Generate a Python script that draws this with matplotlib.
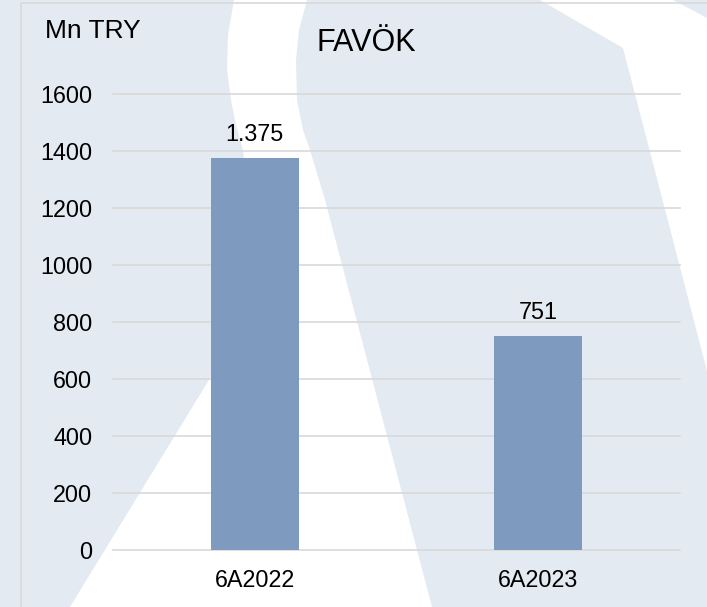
import matplotlib.pyplot as plt
from matplotlib.patches import Polygon, Rectangle

plt.rcParams["font.family"] = ["Liberation Sans", "DejaVu Sans"]

categories = ["6A2022", "6A2023"]
values = [1375, 751]
value_labels = ["1.375", "751"]
y_ticks = [0, 200, 400, 600, 800, 1000, 1200, 1400, 1600]

W, H = 707, 607
fig = plt.figure(figsize=(W / 100, H / 100), dpi=100)
fig.patch.set_facecolor("white")

# background decoration in pixel coordinates
bg = fig.add_axes([0, 0, 1, 1], zorder=0)
bg.set_xlim(0, W)
bg.set_ylim(H, 0)
bg.axis("off")
bg.add_patch(Rectangle((0, 0), W, H, facecolor="#E4EAF2", edgecolor="none"))
left_white = [(234, 0), (307, 0), (299, 30), (296, 60), (297, 100), (303, 130),
              (310, 150), (325, 200), (432, 607), (70, 607), (212, 375),
              (252, 220), (243, 150), (236, 125), (231, 100), (227, 70),
              (228, 35)]
bg.add_patch(Polygon(left_white, closed=True, facecolor="white", edgecolor="none"))
right_white = [(540, 0), (673, 0), (707, 18), (707, 371), (623, 48)]
bg.add_patch(Polygon(right_white, closed=True, facecolor="white", edgecolor="none"))
bg.add_patch(Rectangle((21, 3), 720, 640, facecolor="none", edgecolor="#D9D9D9", lw=1.2))

ax = fig.add_axes([113 / W, 1 - 549.7 / H, (680 - 113) / W, (549.7 - 93.7) / H], zorder=1)
ax.patch.set_alpha(0)
x = range(len(categories))
ax.bar(x, values, width=0.31, color="#7E9BBF", zorder=3)
ax.set_xlim(-0.5, 1.5)
ax.set_ylim(0, 1600)
for t in y_ticks:
    ax.axhline(t, color="#D9D9D9", lw=1.2, zorder=1, clip_on=False)
for xi, v, lab in zip(x, values, value_labels):
    ax.annotate(lab, (xi, v), xytext=(0, 17), textcoords="offset points",
                ha="center", va="center", fontsize=16.8, color="black")

ax.set_yticks(y_ticks)
ax.set_xticks(list(x))
ax.set_xticklabels(categories)
ax.tick_params(axis="y", length=0, pad=15, labelsize=16.8, labelcolor="black")
ax.tick_params(axis="x", length=0, pad=14, labelsize=16.8, labelcolor="black")
for s in ax.spines.values():
    s.set_visible(False)

fig.text(45 / W, 1 - 31 / H, "Mn TRY", fontsize=19, ha="left", va="center", color="black")
fig.text(366 / W, 1 - 43 / H, "FAVÖK", fontsize=22, ha="center", va="center", color="black")

fig.savefig("out.png", dpi=100)
